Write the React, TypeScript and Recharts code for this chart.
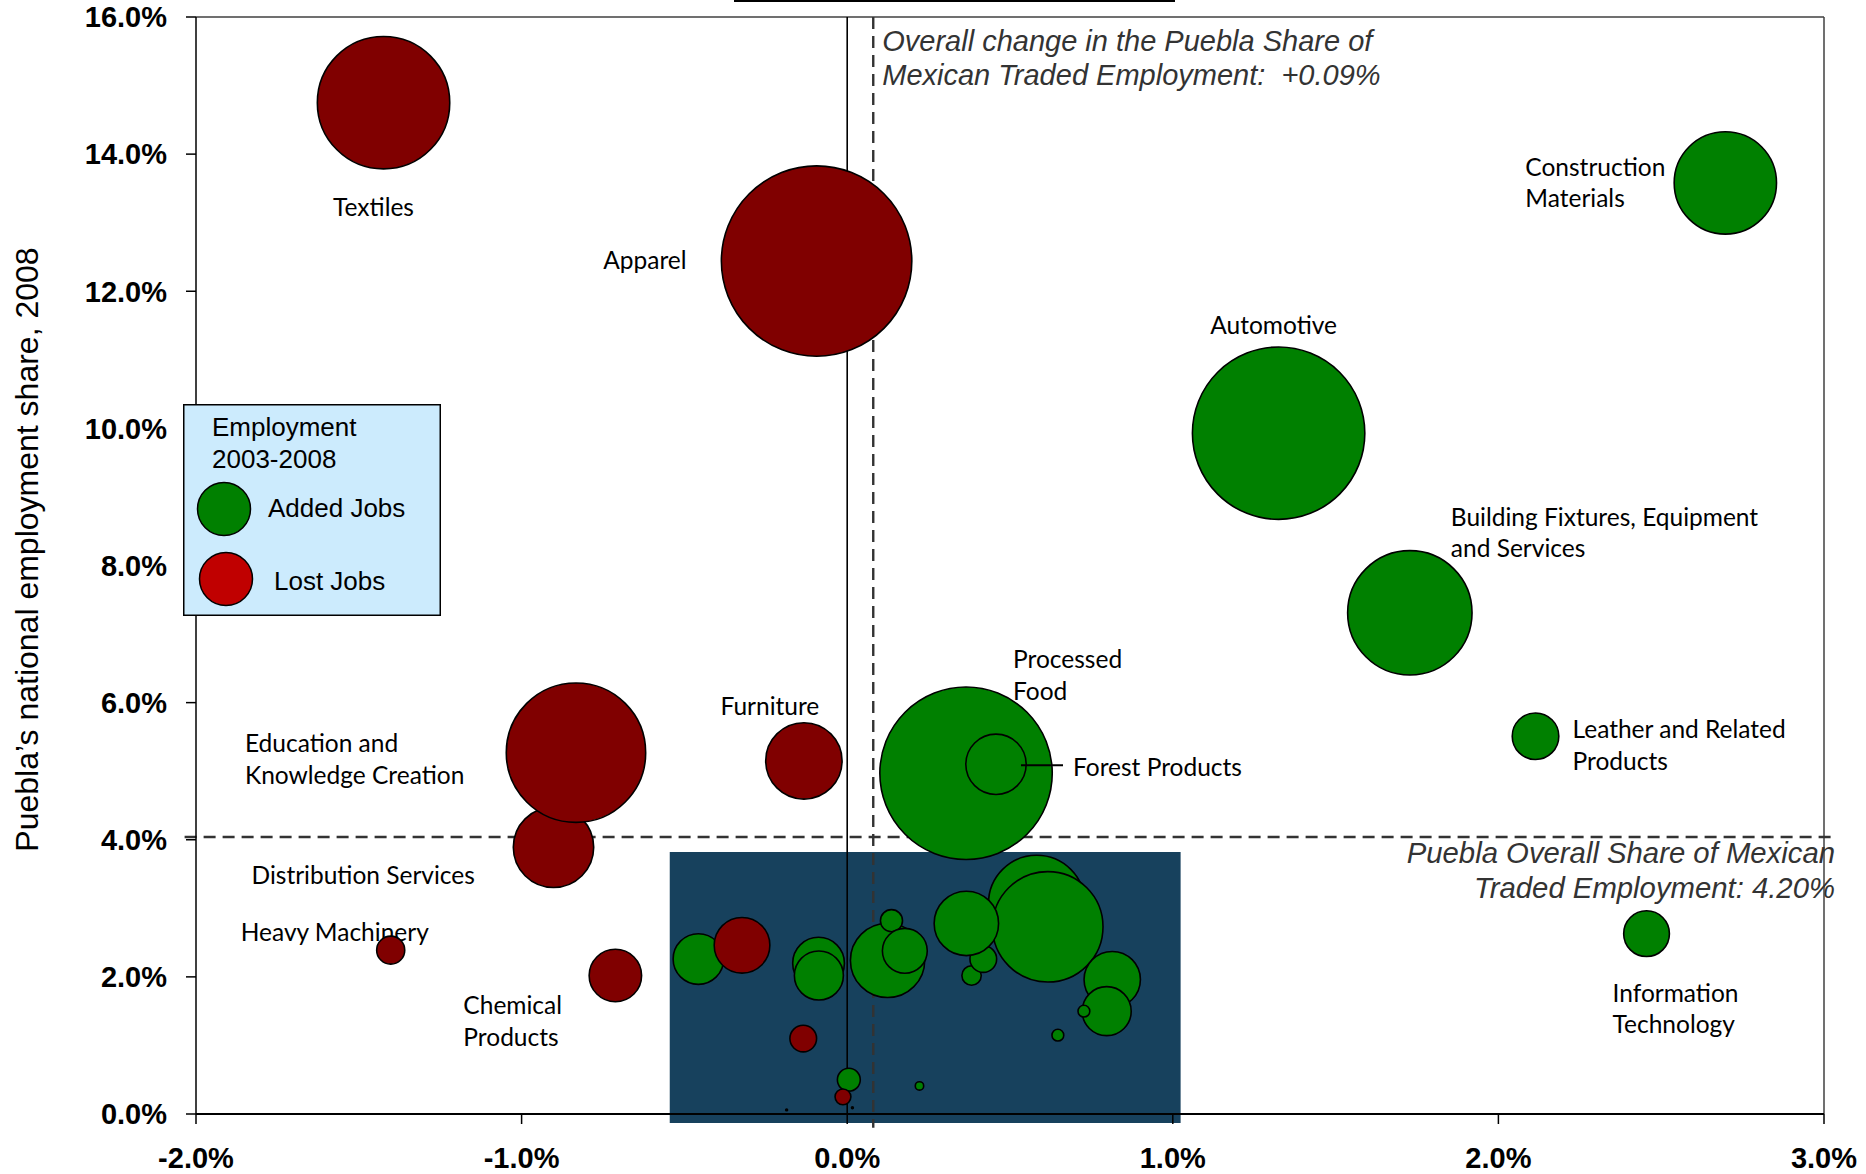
import React from 'react';
import {
  ScatterChart,
  Scatter,
  XAxis,
  YAxis,
  ZAxis,
  ReferenceArea,
  ReferenceLine,
  ReferenceDot,
  Legend,
} from 'recharts';

// ---------- data ----------
const CLUSTERS = [
  'Textiles',
  'Apparel',
  'Construction Materials',
  'Automotive',
  'Building Fixtures, Equipment and Services',
  'Leather and Related Products',
  'Information Technology',
  'Processed Food',
  'Forest Products',
  'Distribution Services',
  'Education and Knowledge Creation',
  'Furniture',
  'Heavy Machinery',
  'Chemical Products',
  'Cluster 15',
  'Cluster 16',
  'Cluster 17',
  'Cluster 18',
  'Cluster 19',
  'Cluster 20',
  'Cluster 21',
  'Cluster 22',
  'Cluster 23',
  'Cluster 24',
  'Cluster 25',
  'Cluster 26',
  'Cluster 27',
  'Cluster 28',
  'Cluster 29',
  'Cluster 30',
  'Cluster 31',
  'Cluster 32',
  'Cluster 33',
  'Cluster 34',
  'Cluster 35',
  'Cluster 36',
];

// change in Puebla's national employment share, 2003-2008 (percentage points)
const SHARE_CHANGE = [
  -1.424, -0.094, 2.697, 1.325, 1.728, 2.114, 2.455, 0.365, 0.457, -0.902, -0.833, -0.133,
  -1.402, -0.712, -0.457, -0.323, -0.088, -0.087, 0.124, 0.136, 0.177, 0.582, 0.616, 0.382,
  0.418, 0.366, 0.814, 0.797, 0.727, 0.647, 0.222, -0.135, 0.005, -0.013, -0.186, 0.016,
];

// Puebla's national employment share, 2008 (%)
const SHARE_2008 = [
  14.75, 12.44, 13.58, 9.93, 7.31, 5.51, 2.63, 4.97, 5.1, 3.89, 5.27, 5.15,
  2.39, 2.02, 2.26, 2.46, 2.2, 2.02, 2.24, 2.82, 2.38, 3.07, 2.73, 2.02,
  2.26, 2.78, 1.96, 1.5, 1.5, 1.15, 0.41, 1.1, 0.5, 0.25, 0.06, 0.09,
];

// cluster employment (relative bubble size)
const EMPLOYMENT = [
  44.9, 92.2, 27.0, 75.7, 39.7, 5.8, 5.6, 75.7, 9.6, 16.8, 49.7, 15.2,
  2.2, 7.3, 6.8, 8.2, 7.1, 6.4, 14.4, 1.4, 5.4, 24.0, 31.4, 1.1,
  2.0, 10.9, 8.4, 6.4, 0.45, 0.45, 0.25, 2.0, 1.5, 0.76, 0.03, 0.03,
];

const JOB_TREND = [
  'lost', 'lost', 'added', 'added', 'added', 'added', 'added', 'added', 'added', 'lost', 'lost', 'lost',
  'lost', 'lost', 'added', 'lost', 'added', 'added', 'added', 'added', 'added', 'added', 'added', 'added',
  'added', 'added', 'added', 'added', 'added', 'added', 'added', 'lost', 'added', 'lost', 'lost', 'added',
];

const X_TICKS = [-2, -1, 0, 1, 2, 3];
const Y_TICKS = [0, 2, 4, 6, 8, 10, 12, 14, 16];

const OVERALL_CHANGE = 0.08;
const OVERALL_SHARE = 4.04;

const LEGEND_TITLE = ['Employment', '2003-2008'];
const LEGEND_ITEMS = ['Added Jobs', 'Lost Jobs'];

const CHANGE_NOTE = ['Overall change in the Puebla Share of', 'Mexican Traded Employment:\u00a0 +0.09%'];
const SHARE_NOTE = ['Puebla Overall Share of Mexican', 'Traded Employment: 4.20%'];
const Y_TITLE = 'Puebla\u2019s national employment share, 2008';

// ---------- styles ----------
const GREEN = '#008000';
const DARK_RED = '#800000';
const LEGEND_RED = '#c00000';
const BOX_BLUE = '#17415d';
const NOTE_GRAY = '#333333';
const LABEL_FONT = "Lato, 'Noto Sans', sans-serif";
const ARIAL = "'Liberation Sans', Arial, sans-serif";
const LABEL_SIZE = 24.5;
const LABEL_LINE = 31.5;

type LabelLayout = {
  lines: string[];
  anchor: 'start' | 'middle' | 'end';
  dx: number;
  dy: number;
  leader?: [number, number, number];
};

const LABEL_LAYOUT: Record<string, LabelLayout> = {
  Textiles: { lines: ['Textiles'], anchor: 'middle', dx: -10, dy: 104 },
  Apparel: { lines: ['Apparel'], anchor: 'end', dx: -130, dy: -1 },
  'Construction Materials': { lines: ['Construction', 'Materials'], anchor: 'start', dx: -200, dy: -16 },
  Automotive: { lines: ['Automotive'], anchor: 'middle', dx: -5, dy: -108 },
  'Building Fixtures, Equipment and Services': {
    lines: ['Building Fixtures, Equipment', 'and Services'],
    anchor: 'start',
    dx: 41,
    dy: -96,
  },
  'Leather and Related Products': { lines: ['Leather and Related', 'Products'], anchor: 'start', dx: 37, dy: -7 },
  'Information Technology': { lines: ['Information', 'Technology'], anchor: 'start', dx: -34, dy: 59 },
  'Processed Food': { lines: ['Processed', 'Food'], anchor: 'start', dx: 47, dy: -114 },
  'Forest Products': { lines: ['Forest Products'], anchor: 'start', dx: 77, dy: 2.5, leader: [25, 67, 1] },
  'Distribution Services': { lines: ['Distribution Services'], anchor: 'start', dx: -302, dy: 28 },
  'Education and Knowledge Creation': {
    lines: ['Education and', 'Knowledge Creation'],
    anchor: 'start',
    dx: -331,
    dy: -9,
  },
  Furniture: { lines: ['Furniture'], anchor: 'middle', dx: -34, dy: -55 },
  'Heavy Machinery': { lines: ['Heavy Machinery'], anchor: 'start', dx: -150, dy: -18 },
  'Chemical Products': { lines: ['Chemical', 'Products'], anchor: 'start', dx: -152, dy: 30 },
};

const rows = CLUSTERS.map((name, i) => ({
  name,
  x: SHARE_CHANGE[i],
  y: SHARE_2008[i],
  z: EMPLOYMENT[i],
  trend: JOB_TREND[i],
}));

const pct = (v: number) => `${v.toFixed(1)}%`;

const Bubble = (props: any) => {
  const { cx, cy, size, width, payload } = props;
  if (cx == null || cy == null) return <g />;
  const r = size != null ? Math.sqrt(Math.max(size, 0) / Math.PI) : (width || 0) / 2;
  const layout = LABEL_LAYOUT[payload?.name];
  return (
    <g>
      <circle
        cx={cx}
        cy={cy}
        r={Math.max(r - 0.8, 0.8)}
        fill={payload?.trend === 'added' ? GREEN : DARK_RED}
        stroke="#000"
        strokeWidth={1.6}
      />
      {layout && layout.leader ? (
        <line
          x1={cx + layout.leader[0]}
          x2={cx + layout.leader[1]}
          y1={cy + layout.leader[2]}
          y2={cy + layout.leader[2]}
          stroke="#000"
          strokeWidth={2}
        />
      ) : null}
    </g>
  );
};

const BubbleLabel = (props: any) => {
  const { cx, cy, payload } = props;
  const l = payload ? LABEL_LAYOUT[payload.name] : undefined;
  if (!l || cx == null || cy == null) return <g />;
  const x = cx + l.dx;
  return (
    <text x={x} y={cy + l.dy} textAnchor={l.anchor} fontFamily={LABEL_FONT} fontSize={LABEL_SIZE} fill="#000">
      {l.lines.map((t, k) => (
        <tspan key={k} x={x} dy={k === 0 ? '0.36em' : LABEL_LINE}>
          {t}
        </tspan>
      ))}
    </text>
  );
};

const YTitle = (props: any) => {
  const vb = props.viewBox || { x: 0, y: 17, width: 196, height: 1097 };
  const cx = vb.x + 27;
  const cy = vb.y + vb.height / 2 - 16;
  return (
    <text
      x={cx}
      y={cy}
      transform={`rotate(-90 ${cx} ${cy})`}
      textAnchor="middle"
      dominantBaseline="central"
      fontFamily={ARIAL}
      fontSize={32}
      fill="#000"
    >
      {Y_TITLE}
    </text>
  );
};

const ChangeNote = (props: any) => {
  const vb = props.viewBox || { x: 0, y: 0 };
  const x = vb.x + 9;
  return (
    <text x={x} y={vb.y + 24} fontFamily={ARIAL} fontStyle="italic" fontSize={29} fill={NOTE_GRAY}>
      {CHANGE_NOTE.map((t, k) => (
        <tspan key={k} x={x} dy={k === 0 ? '0.36em' : 34}>
          {t}
        </tspan>
      ))}
    </text>
  );
};

const ShareNote = (props: any) => {
  const vb = props.viewBox || { x: 0, y: 0 };
  const x = vb.x - 2;
  return (
    <text x={x} y={vb.y + 15.5} textAnchor="end" fontFamily={ARIAL} fontStyle="italic" fontSize={29.3} fill={NOTE_GRAY}>
      {SHARE_NOTE.map((t, k) => (
        <tspan key={k} x={x} dy={k === 0 ? '0.36em' : 35}>
          {t}
        </tspan>
      ))}
    </text>
  );
};

const LegendBox = () => (
  <svg width={258} height={212} style={{ display: 'block' }}>
    <rect x={0.75} y={0.75} width={256.5} height={210.5} fill="#ccebfd" stroke="#000" strokeWidth={1.5} />
    {LEGEND_TITLE.map((t, k) => (
      <text key={t} x={29} y={23 + k * 31.5} dominantBaseline="central" fontFamily={ARIAL} fontSize={26} fill="#000">
        {t}
      </text>
    ))}
    <circle cx={41} cy={105} r={26.5} fill={GREEN} stroke="#000" strokeWidth={1.5} />
    <text x={85} y={103.5} dominantBaseline="central" fontFamily={ARIAL} fontSize={26} fill="#000">
      {LEGEND_ITEMS[0]}
    </text>
    <circle cx={43} cy={175} r={26.5} fill={LEGEND_RED} stroke="#000" strokeWidth={1.5} />
    <text x={91} y={177} dominantBaseline="central" fontFamily={ARIAL} fontSize={26} fill="#000">
      {LEGEND_ITEMS[1]}
    </text>
  </svg>
);

const tickStyle = { fontFamily: ARIAL, fontWeight: 700, fontSize: 29, fill: '#000' };

export default function App() {
  return (
    <div style={{ position: 'absolute', left: 0, top: 0, width: 1866, height: 1174, background: '#fff', overflow: 'hidden' }}>
      <div style={{ position: 'absolute', left: 734, top: 0, width: 441, height: 2, background: '#000' }} />
      <ScatterChart width={1866} height={1174} margin={{ top: 17, right: 42, bottom: 0, left: 0 }}>
        <ReferenceArea
          x1={-0.545}
          x2={1.024}
          y1={-0.13}
          y2={3.82}
          ifOverflow="visible"
          fill={BOX_BLUE}
          fillOpacity={1}
          stroke="none"
        />
        <XAxis
          type="number"
          dataKey="x"
          domain={[-2, 3]}
          ticks={X_TICKS}
          tickFormatter={pct}
          tick={tickStyle}
          tickSize={10}
          tickMargin={23}
          height={60}
          axisLine={{ stroke: '#000', strokeWidth: 2.2 }}
          tickLine={{ stroke: '#000', strokeWidth: 1.5 }}
          interval={0}
        />
        <YAxis
          type="number"
          dataKey="y"
          domain={[0, 16]}
          ticks={Y_TICKS}
          tickFormatter={pct}
          tick={tickStyle}
          tickSize={10}
          tickMargin={19}
          width={196}
          axisLine={{ stroke: '#000', strokeWidth: 1.5 }}
          tickLine={{ stroke: '#000', strokeWidth: 1.5 }}
          interval={0}
          label={<YTitle />}
        />
        <ZAxis type="number" dataKey="z" domain={[0, 100]} range={[0, Math.PI * 10000]} />
        <ReferenceLine y={16} stroke="#404040" strokeWidth={1.5} ifOverflow="visible" />
        <ReferenceLine x={3} stroke="#404040" strokeWidth={1.5} ifOverflow="visible" />
        <ReferenceLine x={0} stroke="#000" strokeWidth={1.6} />
        <ReferenceLine
          segment={[
            { x: OVERALL_CHANGE, y: 16 },
            { x: OVERALL_CHANGE, y: -0.2 },
          ]}
          stroke={NOTE_GRAY}
          strokeWidth={2.4}
          strokeDasharray="12 7"
          ifOverflow="visible"
        />
        <ReferenceLine
          segment={[
            { x: -2.035, y: OVERALL_SHARE },
            { x: 3.04, y: OVERALL_SHARE },
          ]}
          stroke={NOTE_GRAY}
          strokeWidth={2.4}
          strokeDasharray="12 7"
          ifOverflow="visible"
        />
        <ReferenceDot x={OVERALL_CHANGE} y={16} r={0} ifOverflow="visible" fill="none" stroke="none" label={<ChangeNote />} />
        <ReferenceDot x={3.04} y={OVERALL_SHARE} r={0} ifOverflow="visible" fill="none" stroke="none" label={<ShareNote />} />
        <Scatter name="labels" data={rows} shape={BubbleLabel} isAnimationActive={false} legendType="none" />
        <Scatter name="clusters" data={rows} shape={Bubble} isAnimationActive={false} legendType="none" />
        <Legend
          layout="vertical"
          align="center"
          verticalAlign="middle"
          content={<LegendBox />}
          wrapperStyle={{ left: 183, top: 404, width: 258, height: 212 }}
        />
      </ScatterChart>
    </div>
  );
}
